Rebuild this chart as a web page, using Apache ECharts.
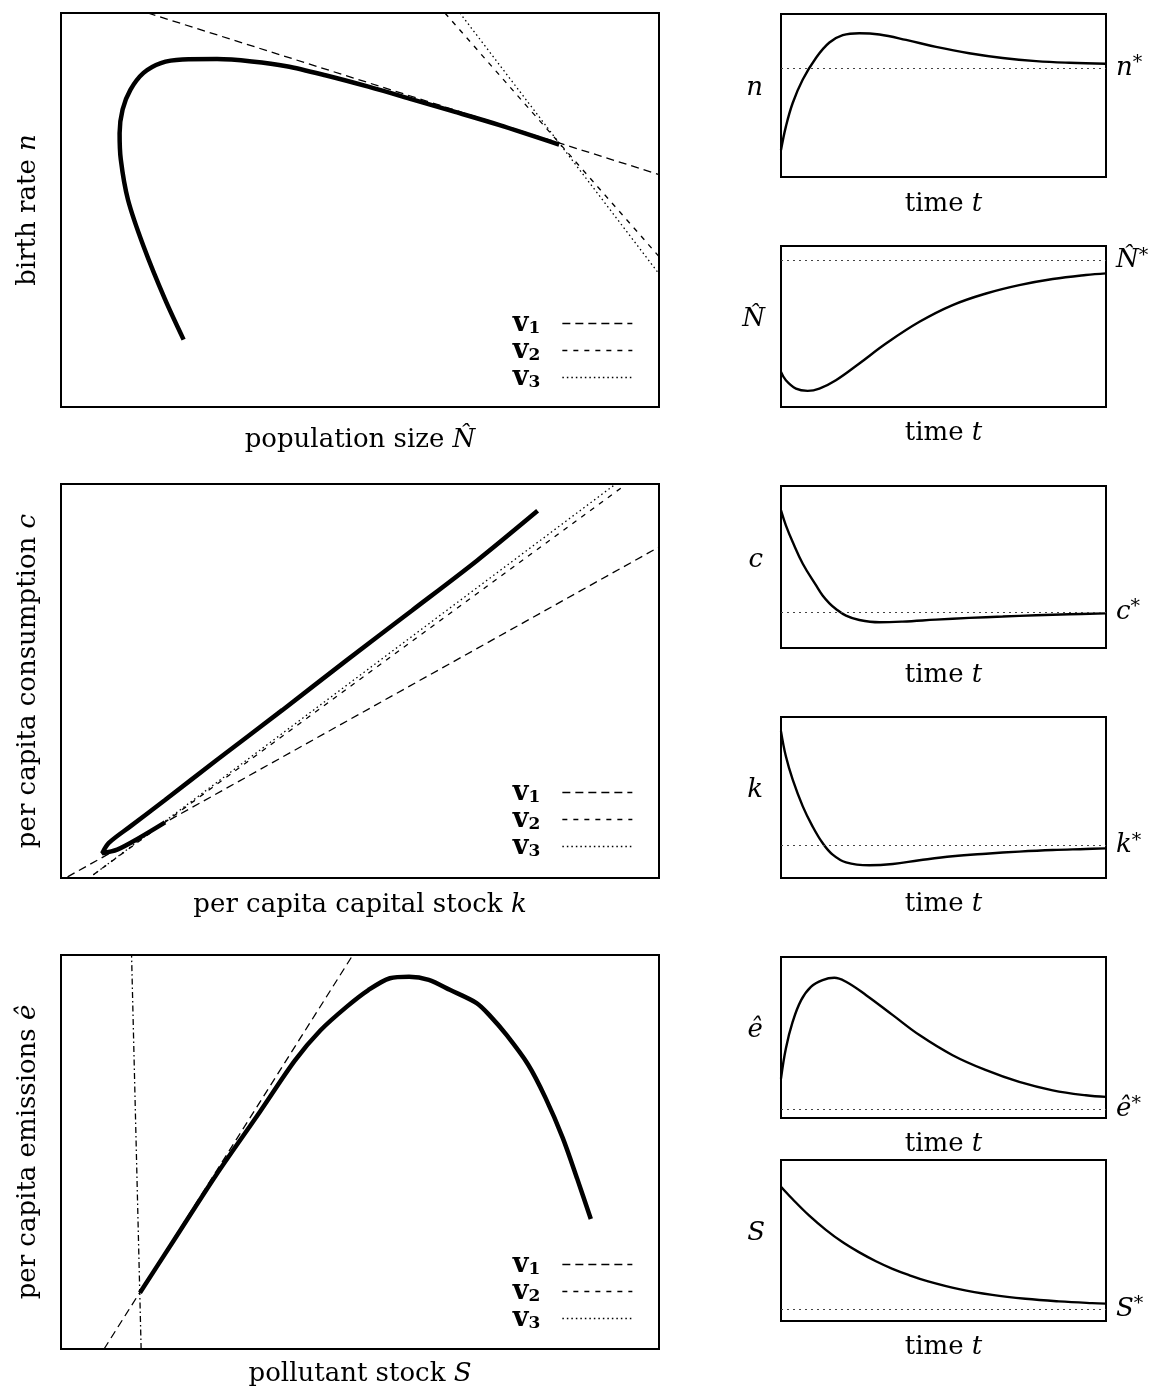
<!DOCTYPE html>
<html>
<head>
<meta charset="utf-8">
<script src="https://cdn.jsdelivr.net/npm/echarts@6/dist/echarts.min.js"></script>
<style>
  html, body { margin: 0; padding: 0; background: #fff; }
  #main { width: 1158px; height: 1390px; }
</style>
</head>
<body>
<div id="main"></div>
<script>
// phase plots, values in box units (0..100 on both axes)
var popSize   = [20.5, 17.4, 13.8, 11.2, 10.0, 9.8, 10.3, 11.6, 13.8, 16.7, 20.3, 26.1, 31.9, 37.7, 44.2, 51.4, 58.7, 65.9, 73.2, 83.3];
var birthRate = [17.1, 27.3, 40.8, 52.6, 62.8, 69.5, 75.5, 80.5, 84.8, 87.3, 88.2, 88.3, 87.7, 86.5, 84.2, 81.3, 78.1, 74.9, 71.6, 66.6];
var v1PopX = [14.5, 100], v1PopY = [100, 59.0];
var v2PopX = [64.2, 100], v2PopY = [100, 38.2];
var v3PopX = [66.7, 100], v3PopY = [100, 33.8];

var capital     = [79.7, 69.6, 58.7, 47.8, 37.0, 26.1, 17.4, 11.6, 8.0, 6.9, 9.4, 13.0, 17.4];
var consumption = [93.2, 80.6, 67.9, 55.3, 42.6, 30.0, 19.8, 13.1, 8.9, 6.3, 7.2, 10.1, 14.1];
var v1CapX = [1.1, 100], v1CapY = [0.3, 84.0];
var v2CapX = [5.4, 94.2], v2CapY = [0.8, 99.6];
var v3CapX = [5.4, 92.4], v3CapY = [0.8, 99.6];

var stock     = [88.6, 86.3, 83.9, 81.0, 78.1, 74.5, 71.6, 69.5, 65.1, 61.5, 58.2, 55.0, 51.4, 47.8, 43.4, 39.1, 33.3, 26.0, 18.8, 13.2];
var emissions = [33.0, 43.3, 53.6, 63.8, 72.2, 79.7, 84.8, 87.8, 91.1, 93.7, 94.5, 94.1, 91.1, 86.9, 80.9, 73.2, 60.3, 44.3, 27.4, 14.3];
var v1StX = [7.2, 48.8], v1StY = [0, 100];
var v3StX = [13.4, 11.8], v3StY = [0, 100];

// time paths
var tN = [0, 1.5, 3.6, 6.7, 10.8, 14.9, 19.0, 24.1, 30.3, 38.5, 47.7, 57.9, 68.2, 78.5, 88.7, 100];
var nPath = [16.5, 30.9, 45.4, 59.8, 73.2, 82.5, 87.0, 88.2, 87.4, 84.1, 79.8, 75.9, 73.0, 71.1, 70.1, 69.5];
var nStar = 66.6;

var tPop = [0, 1.5, 4.6, 8.2, 11.8, 16.9, 24.1, 32.3, 42.6, 52.8, 63.1, 73.3, 83.6, 93.8, 100];
var popPath = [21.8, 16.6, 11.4, 10.0, 11.4, 16.6, 27.0, 39.4, 52.9, 63.3, 70.5, 75.7, 79.5, 82.0, 83.0];
var popStar = 90.9;

var tC = [0, 1.5, 3.6, 6.7, 10.8, 12.8, 14.9, 16.9, 20.0, 24.1, 30.3, 37.4, 47.7, 57.9, 68.2, 78.5, 88.7, 100];
var cPath = [84.9, 75.7, 65.4, 52.0, 38.6, 32.4, 27.6, 24.1, 20.0, 17.3, 15.9, 16.3, 17.5, 18.6, 19.4, 20.2, 20.8, 21.4];
var cStar = 22.1;

var tK = [0, 1.5, 3.6, 6.7, 9.7, 12.8, 15.9, 20.0, 27.2, 34.4, 42.6, 52.8, 63.1, 73.3, 83.6, 93.8, 100];
var kPath = [91.1, 75.6, 61.1, 44.5, 32.1, 21.7, 14.5, 9.7, 7.9, 8.7, 11.0, 13.5, 15.1, 16.4, 17.4, 18.0, 18.4];
var kStar = 20.1;

var tE = [0, 1.5, 3.6, 6.2, 9.2, 12.8, 16.4, 20.0, 26.2, 34.4, 42.6, 52.8, 63.1, 73.3, 83.6, 93.8, 100];
var ePath = [24.5, 43.2, 59.8, 73.2, 81.5, 85.7, 87.1, 84.6, 76.3, 63.9, 51.5, 39.0, 29.7, 22.4, 17.2, 14.1, 13.1];
var eStar = 5.6;

var tS = [0, 3.6, 8.7, 13.8, 18.9, 24.1, 29.2, 34.3, 39.4, 44.5, 54.8, 65.0, 75.2, 85.5, 95.7, 100];
var sPath = [83.4, 75.6, 65.4, 56.6, 49.0, 42.6, 37.1, 32.4, 28.5, 25.1, 19.8, 16.2, 13.8, 12.2, 11.1, 10.8];
var sStar = 7.5;

var FONT = 'DejaVu Serif';
var rich = {
    r: { fontFamily: FONT, fontSize: 26, color: '#000' },
    i: { fontFamily: FONT, fontSize: 26, fontStyle: 'italic', color: '#000' },
    sup: { fontFamily: FONT, fontSize: 19, color: '#000', padding: [0, 0, 10, 0] }
};

function zip(a, b) {
    var out = [];
    for (var j = 0; j < a.length; j++) out.push([a[j], b[j]]);
    return out;
}

var grids = [
    { left: 61, top: 13, width: 598, height: 394 },
    { left: 61, top: 484, width: 598, height: 394 },
    { left: 61, top: 955, width: 598, height: 394 },
    { left: 781, top: 14, width: 325, height: 163 },
    { left: 781, top: 246, width: 325, height: 161 },
    { left: 781, top: 486, width: 325, height: 162 },
    { left: 781, top: 717, width: 325, height: 161 },
    { left: 781, top: 957, width: 325, height: 161 },
    { left: 781, top: 1160, width: 325, height: 161 }
];
grids.forEach(function(g) {
    g.show = true;
    g.borderColor = '#000';
    g.borderWidth = 2;
    g.backgroundColor = 'transparent';
});

var xNames = [
    ['{r|population size }{i|N\u0302}', 20],
    ['{r|per capita capital stock }{i|k}', 14],
    ['{r|pollutant stock }{i|S}', 12],
    ['{r|time }{i|t}', 14], ['{r|time }{i|t}', 13], ['{r|time }{i|t}', 14],
    ['{r|time }{i|t}', 13], ['{r|time }{i|t}', 13], ['{r|time }{i|t}', 13]
];
var yNames = [
    ['{r|birth rate }{i|n}', 20, 90],
    ['{r|per capita consumption }{i|c}', 20, 90],
    ['{r|per capita emissions }{i|ê}', 20, 90],
    ['{i|n}', 18, 0], ['{i|N\u0302}', 16, 0], ['{i|c}', 18, 0],
    ['{i|k}', 18, 0], ['{i|ê}', 18, 0], ['{i|S}', 16, 0]
];

var xAxes = [], yAxes = [];
for (var g = 0; g < grids.length; g++) {
    xAxes.push({
        gridIndex: g, type: 'value', min: 0, max: 100,
        name: xNames[g][0], nameLocation: 'middle', nameGap: xNames[g][1],
        nameTextStyle: { rich: rich },
        axisLine: { show: false }, axisTick: { show: false },
        axisLabel: { show: false }, splitLine: { show: false }
    });
    yAxes.push({
        gridIndex: g, type: 'value', min: 0, max: 100,
        name: yNames[g][0], nameLocation: 'middle', nameGap: yNames[g][1],
        nameRotate: yNames[g][2],
        nameTextStyle: { rich: rich, padding: yNames[g][2] ? 0 : [0, 0, 14, 0] },
        axisLine: { show: false }, axisTick: { show: false },
        axisLabel: { show: false }, splitLine: { show: false }
    });
}

var dashV1 = [8, 5], dashV2 = [5, 6], dashV3 = [1.5, 3];

function vLine(name, g, xs, ys, dash) {
    return {
        name: name, type: 'line', xAxisIndex: g, yAxisIndex: g,
        data: zip(xs, ys), symbol: 'none', silent: true, z: 1,
        itemStyle: { color: '#000' },
        lineStyle: { color: '#000', width: 1.3, type: dash }
    };
}
function phase(g, xs, ys) {
    return {
        name: 'path' + g, type: 'line', xAxisIndex: g, yAxisIndex: g,
        data: zip(xs, ys), symbol: 'none', smooth: 0.3, z: 3,
        lineStyle: { color: '#000', width: 4.5, cap: 'butt' }
    };
}
function timePath(g, ts, ys, star, label) {
    return {
        name: 'time' + g, type: 'line', xAxisIndex: g, yAxisIndex: g,
        data: zip(ts, ys), symbol: 'none', smooth: 0.4, z: 3,
        lineStyle: { color: '#000', width: 2.4 },
        markLine: {
            silent: true, symbol: ['none', 'none'],
            lineStyle: { color: '#444', width: 1.2, type: [2, 4] },
            label: { show: true, position: 'end', distance: 10, formatter: label, rich: rich },
            data: [{ yAxis: star }]
        }
    };
}

var series = [
    vLine('v1', 0, v1PopX, v1PopY, dashV1),
    vLine('v2', 0, v2PopX, v2PopY, dashV2),
    vLine('v3', 0, v3PopX, v3PopY, dashV3),
    phase(0, popSize, birthRate),
    vLine('v1', 1, v1CapX, v1CapY, dashV1),
    vLine('v2', 1, v2CapX, v2CapY, dashV2),
    vLine('v3', 1, v3CapX, v3CapY, dashV3),
    phase(1, capital, consumption),
    vLine('v1', 2, v1StX, v1StY, dashV1),
    vLine('v3', 2, v3StX, v3StY, [6, 3, 1.5, 3]),
    phase(2, stock, emissions),
    timePath(3, tN, nPath, nStar, '{i|n}{sup|*}'),
    timePath(4, tPop, popPath, popStar, '{i|N\u0302}{sup|*}'),
    timePath(5, tC, cPath, cStar, '{i|c}{sup|*}'),
    timePath(6, tK, kPath, kStar, '{i|k}{sup|*}'),
    timePath(7, tE, ePath, eStar, '{i|ê}{sup|*}'),
    timePath(8, tS, sPath, sStar, '{i|S}{sup|*}')
];

var legendRich = {
    v: { fontFamily: FONT, fontWeight: 'bold', fontSize: 27, color: '#000', lineHeight: 27 },
    s: { fontFamily: FONT, fontWeight: 'bold', fontSize: 17, color: '#000', lineHeight: 17, padding: [10, 17, 0, 0] }
};
function legendAt(top) {
    return {
        top: top, right: 525, orient: 'vertical', align: 'right',
        padding: 0, itemGap: 0, itemWidth: 70, itemHeight: 27,
        selectedMode: false,
        data: ['v1', 'v2', 'v3'],
        itemStyle: { opacity: 0 },
        lineStyle: { width: 1.3 },
        formatter: function(name) { return '{v|v}{s|' + name.slice(1) + '}'; },
        textStyle: { rich: legendRich }
    };
}

var chart = echarts.init(document.getElementById('main'));
chart.setOption({
    animation: false,
    backgroundColor: '#fff',
    grid: grids,
    xAxis: xAxes,
    yAxis: yAxes,
    legend: [legendAt(310), legendAt(779), legendAt(1251)],
    series: series
});
</script>
</body>
</html>
